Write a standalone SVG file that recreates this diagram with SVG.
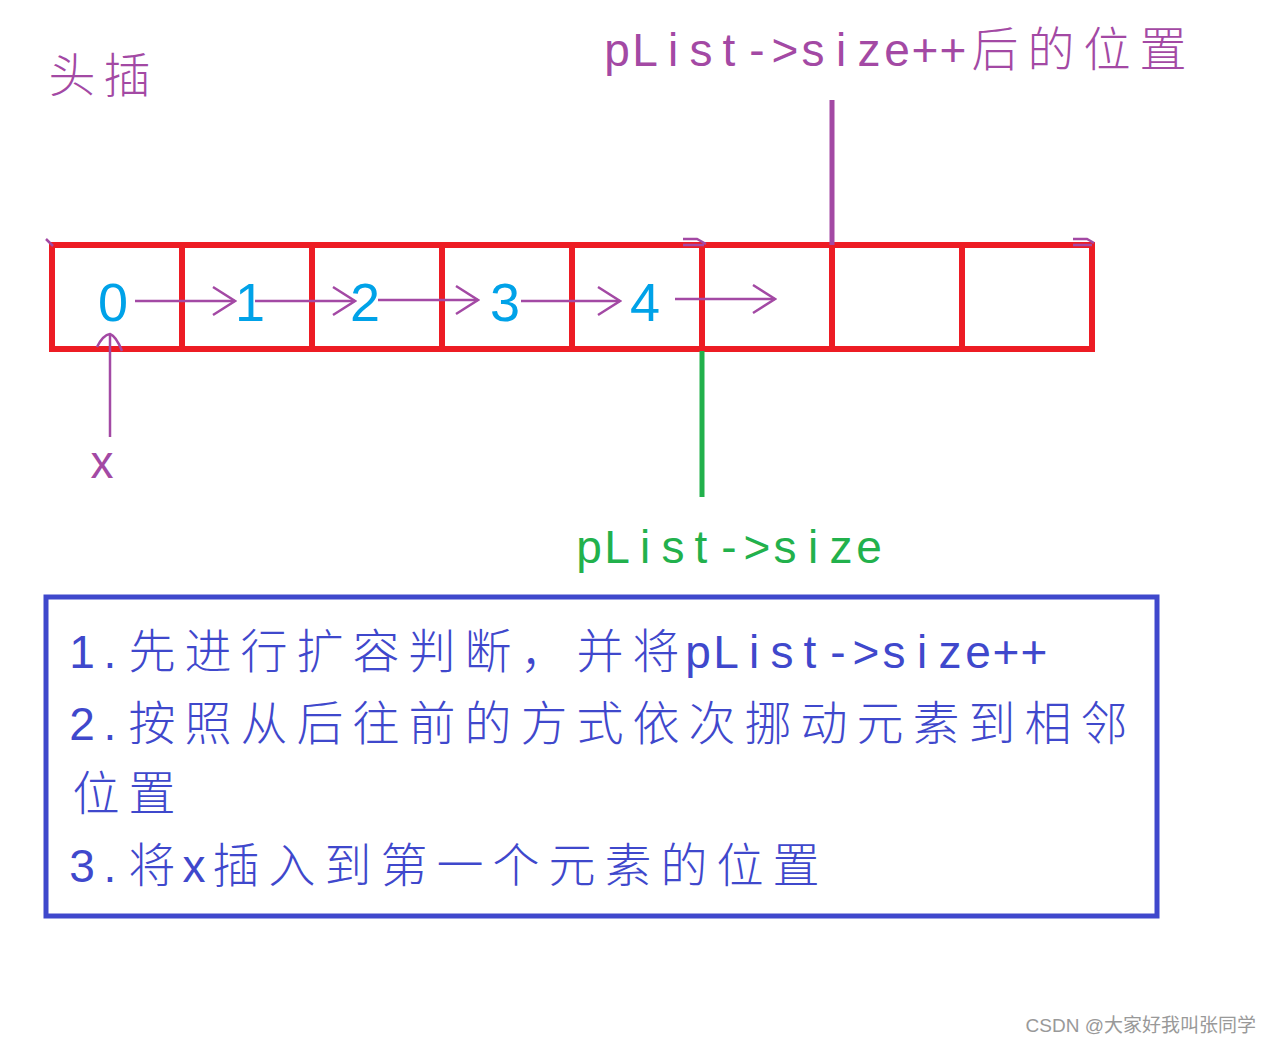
<svg xmlns="http://www.w3.org/2000/svg" width="1271" height="1043" viewBox="0 0 1271 1043">
<style>
.cell{fill:none;stroke:#ED1C24;stroke-width:6}
.dig{font-family:"Liberation Sans",Arial,sans-serif;font-size:54px;fill:#00A2E8;text-anchor:middle}
.t{font-family:"Liberation Sans","Noto Sans CJK SC",sans-serif;text-anchor:middle}
.lat{font-size:46px}
.cjk{font-family:"Noto Sans CJK SC",sans-serif;font-size:47px;font-weight:300}
.pur{fill:#A349A4}
.grn{fill:#22B14C}
.blu{fill:#3F48CC}
.conn{fill:none;stroke:#A349A4;stroke-width:2.5}
</style>
<defs>
<marker id="chev" viewBox="0 0 26 32" refX="24" refY="16" markerWidth="26" markerHeight="32" markerUnits="userSpaceOnUse" orient="auto">
<path d="M2,2 L24,16 L2,30" fill="none" stroke="#A349A4" stroke-width="2.5"/>
</marker>
</defs>
<rect width="1271" height="1043" fill="#fff"/>

<g id="title"><text class="t cjk pur" font-size="46" x="72 127" y="92">头插</text></g>

<g id="label-top">
<text class="t pur" y="66"><tspan class="lat" x="617 645 673 701 729 757 785 813 841 869 897 925 953">pList-&gt;size++</tspan><tspan class="cjk" x="995 1051 1107 1163" y="66">后的位置</tspan></text>
</g>

<g id="array">
<rect class="cell" x="52" y="245" width="130" height="104"/>
<rect class="cell" x="182" y="245" width="130" height="104"/>
<rect class="cell" x="312" y="245" width="130" height="104"/>
<rect class="cell" x="442" y="245" width="130" height="104"/>
<rect class="cell" x="572" y="245" width="130" height="104"/>
<rect class="cell" x="702" y="245" width="130" height="104"/>
<rect class="cell" x="832" y="245" width="130" height="104"/>
<rect class="cell" x="962" y="245" width="130" height="104"/>
</g>

<g id="connectors">
<path class="conn" d="M135,301 H235" marker-end="url(#chev)"/>
<path class="conn" d="M255,301 H355" marker-end="url(#chev)"/>
<path class="conn" d="M378,300 H478" marker-end="url(#chev)"/>
<path class="conn" d="M521,301 H620" marker-end="url(#chev)"/>
<path class="conn" d="M675,299 H775" marker-end="url(#chev)"/>
<path class="conn" d="M110,437 V335"/>
<path class="conn" d="M97,347 Q103,335 110,334 Q116,336 122,351"/>
<path class="conn" d="M46,239 L53,246" stroke-width="3"/>
<path class="conn" d="M683,239 H697 L706,244 M683,245 H704" stroke-width="2"/>
<path class="conn" d="M1073,239 H1087 L1094,243 M1073,245 H1092" stroke-width="2"/>
<line x1="832" y1="100" x2="832" y2="245" stroke="#A349A4" stroke-width="5"/>
<line x1="702" y1="351" x2="702" y2="497" stroke="#22B14C" stroke-width="5"/>
</g>

<g id="digits">
<text class="dig" x="113" y="321">0</text>
<text class="dig" x="250" y="321">1</text>
<text class="dig" x="365" y="321">2</text>
<text class="dig" x="505" y="321">3</text>
<text class="dig" x="645" y="321">4</text>
</g>

<g id="label-x"><text class="t lat pur" x="102" y="478">x</text></g>

<g id="label-size"><text class="t lat grn" x="589 617 645 673 701 729 757 785 813 841 869" y="563">pList-&gt;size</text></g>

<g id="steps">
<rect x="46" y="597" width="1111" height="319" fill="none" stroke="#3F48CC" stroke-width="5"/>
<text class="t blu" y="668"><tspan class="lat" x="82 110">1.</tspan><tspan class="cjk" x="152 208 264 320 376 432 488 544 600 656" y="668">先进行扩容判断，并将</tspan><tspan class="lat" x="698 726 754 782 810 838 866 894 922 950 978 1006 1034" y="668">pList-&gt;size++</tspan></text>
<text class="t blu" y="740"><tspan class="lat" x="82 110">2.</tspan><tspan class="cjk" x="152 208 264 320 376 432 488 544 600 656 712 768 824 880 936 992 1048 1104" y="740">按照从后往前的方式依次挪动元素到相邻</tspan></text>
<text class="t cjk blu" x="96 152" y="810">位置</text>
<text class="t blu" y="882"><tspan class="lat" x="82 110">3.</tspan><tspan class="cjk" x="152" y="882">将</tspan><tspan class="lat" x="194" y="882">x</tspan><tspan class="cjk" x="236 292 348 404 460 516 572 628 684 740 796" y="882">插入到第一个元素的位置</tspan></text>
</g>

<g id="watermark"><text x="1256" y="1032" font-family="Liberation Sans,'Noto Sans CJK SC',sans-serif" font-size="19" fill="#999" text-anchor="end">CSDN @大家好我叫张同学</text></g>
</svg>
